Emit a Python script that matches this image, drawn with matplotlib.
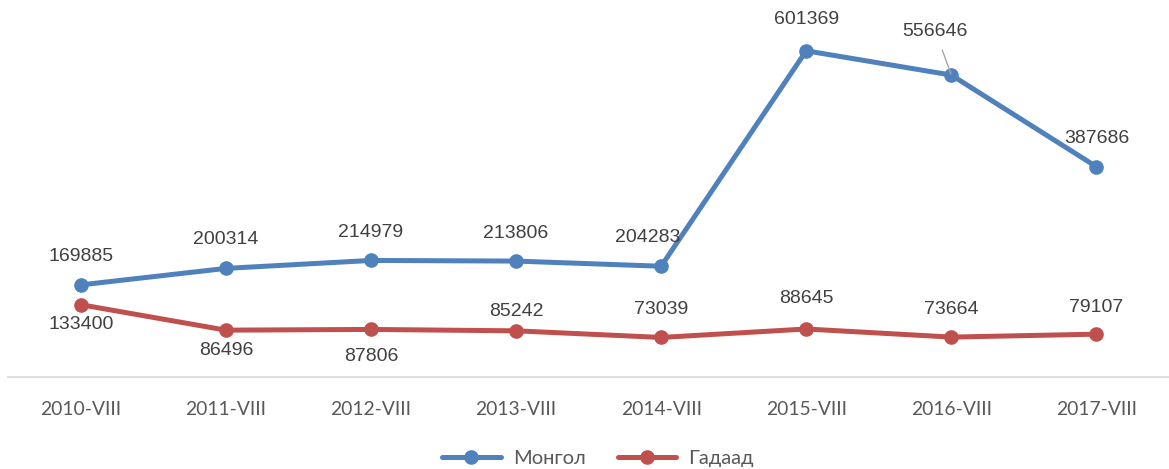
import matplotlib.pyplot as plt

categories = ["2010-VIII", "2011-VIII", "2012-VIII", "2013-VIII",
              "2014-VIII", "2015-VIII", "2016-VIII", "2017-VIII"]
mongol = [169885, 200314, 214979, 213806, 204283, 601369, 556646, 387686]
gadaad = [133400, 86496, 87806, 85242, 73039, 88645, 73664, 79107]

blue = "#4F81BD"
red = "#C0504D"

fig = plt.figure(figsize=(11.69, 4.69), dpi=100)
ax = fig.add_axes([0.007, 0.196, 0.993, 0.804])
x = list(range(len(categories)))

ax.plot(x, mongol, color=blue, lw=3.6, marker="o", ms=9.5, label="Монгол",
        solid_capstyle="round")
ax.plot(x, gadaad, color=red, lw=3.6, marker="o", ms=9.5, label="Гадаад",
        solid_capstyle="round")

lab = dict(fontsize=14, color="#404040", family="Liberation Sans",
           ha="center", va="center", textcoords="offset pixels")

# blue labels (offsets in pixels)
blue_off = [(0, 28), (0, 29), (0, 28), (0, 28), (-13, 29), (0, 31), (-16, 44), (0, 28)]
for i, v in enumerate(mongol):
    if i == 6:
        ax.annotate(str(v), (x[i], v), xytext=blue_off[i], **lab,
                    arrowprops=dict(arrowstyle="-", color="#A6A6A6", lw=1,
                                    shrinkA=6, shrinkB=1))
    else:
        ax.annotate(str(v), (x[i], v), xytext=blue_off[i], **lab)

red_off = [(0, -20), (0, -20), (0, -27), (0, 19), (0, 28), (0, 30), (0, 28), (0, 27)]
for i, v in enumerate(gadaad):
    ax.annotate(str(v), (x[i], v), xytext=red_off[i], **lab)

ax.set_xlim(-0.5, 7.5)
ax.set_ylim(0, 695000)
ax.set_yticks([])
ax.set_xticks(x)
ax.set_xticklabels(categories, fontsize=13.9, color="#595959", family="Lato")
ax.tick_params(axis="x", length=0, pad=17)
for s in ["top", "right", "left"]:
    ax.spines[s].set_visible(False)
ax.spines["bottom"].set_color("#D9D9D9")
ax.spines["bottom"].set_linewidth(1.2)

leg = ax.legend(loc="center", bbox_to_anchor=(0.508, -0.215), ncol=2, frameon=False,
                prop=dict(family="Lato", size=14.5), handlelength=2.9,
                columnspacing=1.6, handletextpad=0.6)
for t in leg.get_texts():
    t.set_color("#595959")

fig.savefig("out.png", dpi=100)
